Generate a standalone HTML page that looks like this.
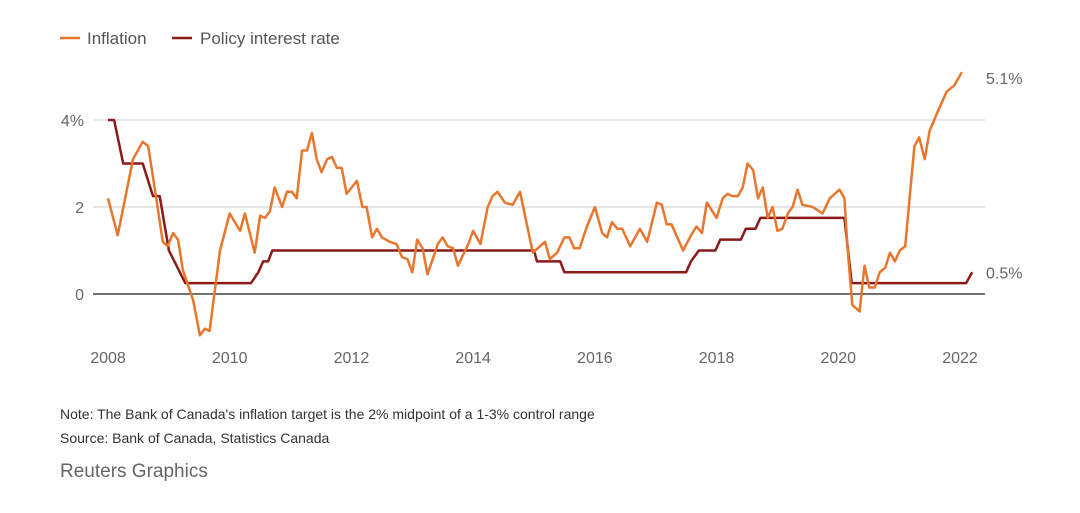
<!DOCTYPE html>
<html><head><meta charset="utf-8">
<style>
body{margin:0;background:#fff;font-family:"Liberation Sans",sans-serif;}
#wrap{position:relative;width:1080px;height:513px;overflow:hidden;}
svg text{font-family:"Liberation Sans",sans-serif;}
</style></head>
<body>
<div id="wrap">
<svg id="chart" width="1080" height="513">
  <g>
    <line x1="60" y1="38" x2="80" y2="38" stroke="#e8762e" stroke-width="2.5"/>
    <text x="87" y="44" font-size="17" fill="#555">Inflation</text>
    <line x1="172" y1="38" x2="192" y2="38" stroke="#8b1a1a" stroke-width="2.5"/>
    <text x="200" y="44" font-size="17" fill="#555">Policy interest rate</text>
  </g>
  <g id="grid"></g>
  <g id="xaxis"></g>
  <g id="series"></g>
  <text x="60" y="419" font-size="14" fill="#333">Note: The Bank of Canada's inflation target is the 2% midpoint of a 1-3% control range</text>
  <text x="60" y="443" font-size="14" fill="#333">Source: Bank of Canada, Statistics Canada</text>
  <text x="60" y="477" font-size="19" fill="#666">Reuters Graphics</text>
</svg>
</div>
<script>
const yTicks=[0,2,4];
const yTickLabels=["0","2","4%"];
const xTicks=[2008,2010,2012,2014,2016,2018,2020,2022];
const inflT=[2008.0,2008.16,2008.41,2008.57,2008.66,2008.77,2008.9,2008.98,2009.07,2009.15,2009.23,2009.4,2009.51,2009.59,2009.67,2009.84,2010.0,2010.17,2010.25,2010.41,2010.5,2010.58,2010.66,2010.74,2010.86,2010.94,2011.02,2011.1,2011.19,2011.27,2011.35,2011.43,2011.51,2011.6,2011.68,2011.76,2011.84,2011.92,2012.09,2012.18,2012.25,2012.34,2012.42,2012.5,2012.63,2012.74,2012.83,2012.92,2013.0,2013.08,2013.17,2013.25,2013.42,2013.5,2013.58,2013.67,2013.75,2013.92,2014.0,2014.12,2014.24,2014.32,2014.4,2014.52,2014.65,2014.77,2014.98,2015.18,2015.26,2015.38,2015.5,2015.58,2015.66,2015.75,2015.87,2016.0,2016.12,2016.2,2016.28,2016.37,2016.45,2016.58,2016.74,2016.86,2017.02,2017.1,2017.18,2017.26,2017.45,2017.58,2017.67,2017.76,2017.84,2018.0,2018.1,2018.18,2018.26,2018.35,2018.43,2018.51,2018.6,2018.68,2018.76,2018.84,2018.92,2019.0,2019.08,2019.17,2019.25,2019.33,2019.41,2019.58,2019.69,2019.74,2019.86,2020.02,2020.1,2020.15,2020.23,2020.35,2020.43,2020.51,2020.6,2020.68,2020.77,2020.85,2020.93,2021.01,2021.1,2021.25,2021.33,2021.42,2021.5,2021.62,2021.78,2021.91,2022.03];
const inflV=[2.2,1.35,3.1,3.5,3.4,2.4,1.2,1.1,1.4,1.25,0.55,-0.15,-0.95,-0.8,-0.85,1.0,1.85,1.45,1.85,0.95,1.8,1.75,1.9,2.45,2.0,2.35,2.35,2.2,3.3,3.3,3.7,3.1,2.8,3.1,3.15,2.9,2.9,2.3,2.6,2.0,2.0,1.3,1.5,1.3,1.2,1.15,0.85,0.8,0.5,1.25,1.05,0.45,1.15,1.3,1.1,1.05,0.65,1.15,1.45,1.15,2.0,2.25,2.35,2.1,2.05,2.35,0.95,1.2,0.8,0.95,1.3,1.3,1.05,1.05,1.55,2.0,1.4,1.3,1.65,1.5,1.5,1.1,1.5,1.2,2.1,2.05,1.6,1.6,1.0,1.35,1.55,1.4,2.1,1.75,2.2,2.3,2.25,2.25,2.45,3.0,2.85,2.2,2.45,1.75,2.0,1.45,1.5,1.85,2.0,2.4,2.05,2.0,1.9,1.85,2.2,2.4,2.2,1.1,-0.25,-0.4,0.65,0.15,0.15,0.5,0.6,0.95,0.75,1.0,1.1,3.4,3.6,3.1,3.75,4.15,4.65,4.8,5.1];
const rateT=[2008.0,2008.1,2008.25,2008.57,2008.74,2008.85,2009.0,2009.27,2010.35,2010.47,2010.55,2010.63,2010.7,2015.0,2015.05,2015.43,2015.5,2017.5,2017.58,2017.71,2017.98,2018.06,2018.4,2018.48,2018.64,2018.72,2020.1,2020.22,2022.1,2022.2];
const rateV=[4.0,4.0,3.0,3.0,2.25,2.25,1.0,0.25,0.25,0.5,0.75,0.75,1.0,1.0,0.75,0.75,0.5,0.5,0.75,1.0,1.0,1.25,1.25,1.5,1.5,1.75,1.75,0.25,0.25,0.5];
const endLabels=["5.1%","0.5%"];

const X0=108,X1=960,T0=2008,T1=2022,Y0=294,PX=43.5;
const xs=t=>X0+(t-T0)*(X1-X0)/(T1-T0);
const ys=v=>Y0-v*PX;
const NS="http://www.w3.org/2000/svg";
function mk(tag,attrs,parent){const e=document.createElementNS(NS,tag);for(const k in attrs)e.setAttribute(k,attrs[k]);parent.appendChild(e);return e;}
const grid=document.getElementById('grid'),xaxis=document.getElementById('xaxis'),series=document.getElementById('series');
yTicks.forEach((v,i)=>{
  const l=mk('line',{x1:93,x2:985,y1:ys(v),y2:ys(v),stroke:v===0?'#444':'#ccc','stroke-width':v===0?1.5:1},grid);
  
  
  const t=mk('text',{x:84,y:ys(v)+6,'font-size':16,fill:'#666','text-anchor':'end'},grid);
  t.textContent=yTickLabels[i];
  
  
});
xTicks.forEach(y=>{
  const t=mk('text',{x:xs(y),y:363,'font-size':16,fill:'#666','text-anchor':'middle'},xaxis);
  t.textContent=y;
  
  
});
function path(T,V){return T.map((t,i)=>(i?'L':'M')+xs(t).toFixed(1)+','+ys(V[i]).toFixed(1)).join('');}
const pr=mk('path',{d:path(rateT,rateV),fill:'none',stroke:'#8b1a1a','stroke-width':2.5,'stroke-linejoin':'round'},series);


const pi=mk('path',{d:path(inflT,inflV),fill:'none',stroke:'#e8762e','stroke-width':2.5,'stroke-linejoin':'round'},series);


const l1=mk('text',{x:986,y:ys(inflV[inflV.length-1])+12,'font-size':16,fill:'#666'},series);
l1.textContent=endLabels[0];


const l2=mk('text',{x:986,y:ys(rateV[rateV.length-1])+6,'font-size':16,fill:'#666'},series);
l2.textContent=endLabels[1];


</script>
</body></html>
